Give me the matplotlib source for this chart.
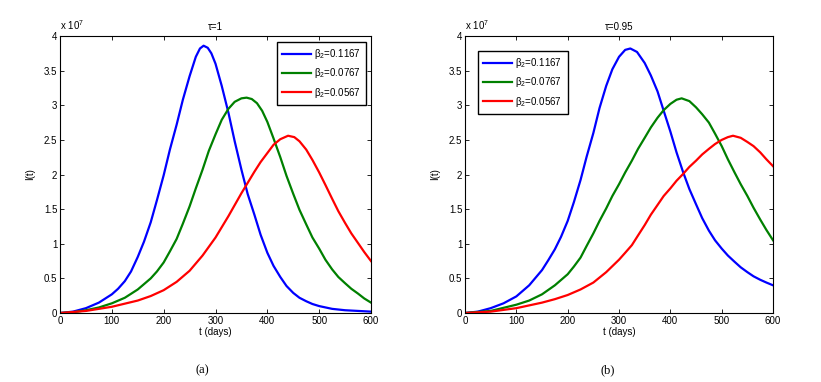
import matplotlib.pyplot as plt
import numpy as np

# Values, I(t) in units of 1e7
labels = ['β$_2$=0.1167', 'β$_2$=0.0767', 'β$_2$=0.0567']
colors = ['#0000ff', '#008000', '#ff0000']

# tau = 1
t_a_blue = [0, 25, 50, 75, 100, 112, 125, 137, 150, 162, 175, 187, 200, 212, 225, 237,
            250, 262, 270, 277, 285, 292, 300, 312, 325, 337, 350, 362, 375, 387, 400,
            412, 425, 437, 450, 462, 475, 487, 500, 525, 550, 575, 600]
I_a_blue = [0.0, 0.02, 0.07, 0.15, 0.27, 0.35, 0.46, 0.60, 0.81, 1.03, 1.31, 1.63, 1.99,
            2.36, 2.72, 3.08, 3.42, 3.70, 3.82, 3.86, 3.83, 3.75, 3.60, 3.28, 2.89, 2.48,
            2.07, 1.72, 1.42, 1.13, 0.87, 0.68, 0.52, 0.39, 0.29, 0.22, 0.17, 0.13, 0.10,
            0.06, 0.04, 0.03, 0.02]
t_a_green = [0, 25, 50, 75, 100, 125, 150, 175, 187, 200, 212, 225, 237, 250, 262, 275,
             287, 300, 312, 325, 337, 350, 360, 370, 380, 390, 400, 412, 425, 437, 450,
             462, 475, 487, 500, 512, 525, 537, 550, 562, 575, 587, 600]
I_a_green = [0.0, 0.01, 0.04, 0.08, 0.14, 0.22, 0.34, 0.50, 0.60, 0.73, 0.89, 1.07, 1.29,
             1.54, 1.80, 2.07, 2.34, 2.58, 2.79, 2.95, 3.05, 3.10, 3.11, 3.09, 3.03, 2.92,
             2.76, 2.52, 2.25, 1.98, 1.72, 1.49, 1.28, 1.09, 0.93, 0.77, 0.63, 0.52, 0.43,
             0.35, 0.28, 0.21, 0.15]
t_a_red = [0, 50, 100, 150, 175, 200, 225, 250, 275, 300, 325, 350, 375, 387, 400, 412,
           425, 440, 452, 462, 475, 487, 500, 512, 525, 537, 550, 562, 575, 587, 600]
I_a_red = [0.0, 0.03, 0.09, 0.18, 0.245, 0.33, 0.45, 0.61, 0.83, 1.09, 1.40, 1.73, 2.04,
           2.18, 2.31, 2.43, 2.51, 2.56, 2.54, 2.48, 2.36, 2.21, 2.03, 1.85, 1.65, 1.47,
           1.30, 1.15, 1.01, 0.88, 0.75]

# tau = 0.95
t_b_blue = [0, 25, 50, 75, 100, 125, 150, 162, 175, 187, 200, 212, 225, 237, 250, 262,
            275, 287, 300, 312, 322, 335, 350, 362, 375, 387, 400, 412, 425, 437, 450,
            462, 475, 487, 500, 512, 525, 537, 550, 562, 575, 587, 600]
I_b_blue = [0.0, 0.02, 0.07, 0.14, 0.24, 0.40, 0.62, 0.76, 0.92, 1.10, 1.33, 1.60, 1.92,
            2.26, 2.60, 2.96, 3.28, 3.52, 3.70, 3.80, 3.82, 3.77, 3.61, 3.43, 3.20, 2.92,
            2.62, 2.32, 2.03, 1.79, 1.57, 1.37, 1.19, 1.05, 0.93, 0.83, 0.74, 0.66, 0.59,
            0.53, 0.48, 0.44, 0.40]
t_b_green = [0, 50, 100, 125, 150, 175, 200, 212, 225, 237, 250, 262, 275, 287, 300, 312,
             325, 337, 350, 362, 375, 387, 400, 412, 422, 437, 450, 462, 475, 487, 500,
             512, 525, 537, 550, 562, 575, 587, 600]
I_b_green = [0.0, 0.03, 0.12, 0.18, 0.27, 0.40, 0.56, 0.67, 0.80, 0.97, 1.15, 1.33, 1.51,
             1.69, 1.86, 2.03, 2.20, 2.37, 2.53, 2.68, 2.82, 2.93, 3.02, 3.08, 3.10, 3.06,
             2.97, 2.87, 2.75, 2.59, 2.41, 2.22, 2.03, 1.86, 1.69, 1.52, 1.35, 1.20, 1.05]
t_b_red = [0, 50, 100, 150, 175, 200, 225, 250, 275, 300, 312, 325, 337, 350, 362, 375,
           387, 400, 412, 425, 437, 450, 462, 475, 487, 500, 512, 522, 537, 550, 562, 575,
           587, 600]
I_b_red = [0.0, 0.02, 0.07, 0.15, 0.20, 0.26, 0.34, 0.44, 0.59, 0.77, 0.87, 0.98, 1.12,
           1.27, 1.42, 1.56, 1.69, 1.80, 1.91, 2.01, 2.11, 2.20, 2.29, 2.37, 2.44, 2.50,
           2.54, 2.56, 2.53, 2.47, 2.41, 2.32, 2.22, 2.12]

panels = [
    ('τ=1', [(t_a_blue, I_a_blue), (t_a_green, I_a_green), (t_a_red, I_a_red)], '(a)'),
    ('τ=0.95', [(t_b_blue, I_b_blue), (t_b_green, I_b_green), (t_b_red, I_b_red)], '(b)'),
]

plt.rcParams['font.family'] = ['Liberation Sans', 'DejaVu Sans']
plt.rcParams['mathtext.fontset'] = 'custom'
plt.rcParams['mathtext.rm'] = 'Liberation Sans'
plt.rcParams['mathtext.it'] = 'Liberation Sans:italic'

fig = plt.figure(figsize=(8.21, 3.82), dpi=100)
positions = [[0.0731, 0.1806, 0.3788, 0.7251], [0.5664, 0.1806, 0.3752, 0.7251]]
legend_anchor = [(0.985, 0.98), (0.042, 0.947)]
legend_loc = ['upper right', 'upper left']
caption_x = [0.246, 0.740]

for k, (title, series, cap) in enumerate(panels):
    ax = fig.add_axes(positions[k])
    for (t, I), c, lab in zip(series, colors, labels):
        ax.plot(t, I, color=c, lw=1.6, label=lab, solid_joinstyle='round')
    ax.set_xlim(0, 600)
    ax.set_ylim(0, 4)
    ax.set_xticks(np.arange(0, 601, 100))
    ax.set_yticks(np.arange(0, 4.01, 0.5))
    ax.set_yticklabels(['0', '0.5', '1', '1.5', '2', '2.5', '3', '3.5', '4'])
    ax.tick_params(direction='in', top=True, right=True, labelsize=7, length=3,
                   width=0.6, pad=2)
    for s in ax.spines.values():
        s.set_linewidth(0.8)
    ax.set_title(title, fontsize=7, pad=4)
    ax.set_xlabel('t (days)', fontsize=7, labelpad=1)
    ax.set_ylabel('I(t)', fontsize=7, labelpad=6)
    ax.text(0.0, 1.015, r'x 10$^7$', transform=ax.transAxes, fontsize=7,
            ha='left', va='bottom')
    leg = ax.legend(loc=legend_loc[k], bbox_to_anchor=legend_anchor[k], fontsize=7,
                    fancybox=False, edgecolor='black', framealpha=1,
                    handlelength=3.0, handletextpad=0.3, labelspacing=0.55,
                    borderpad=0.55, borderaxespad=0.0)
    leg.get_frame().set_linewidth(1.0)
    fig.text(caption_x[k], 0.015, cap, fontsize=9, family='Liberation Serif',
             ha='center', va='bottom')

plt.savefig('out.png', dpi=100)
